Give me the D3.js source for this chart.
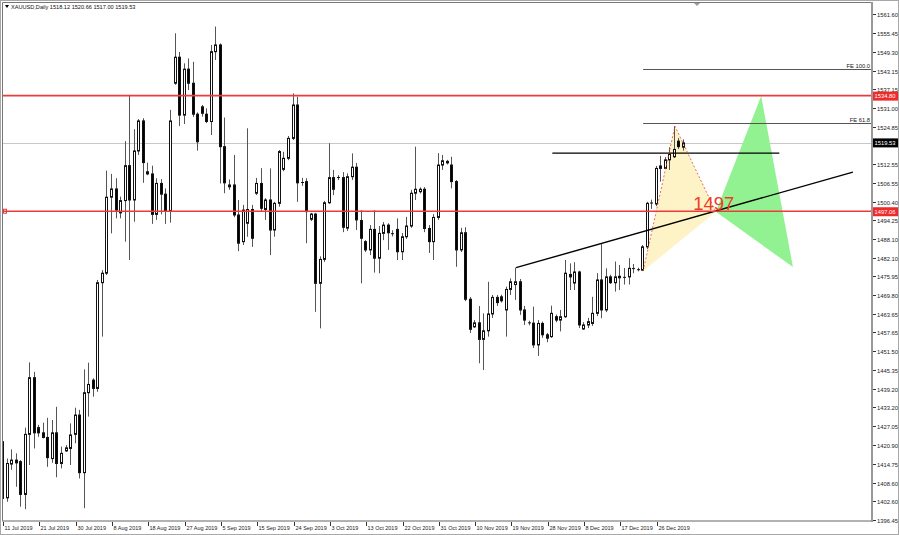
<!DOCTYPE html>
<html><head><meta charset="utf-8">
<script src="https://cdn.jsdelivr.net/npm/d3@7"></script>
<style>html,body{margin:0;padding:0;background:#fff;} svg{display:block;font-family:"Liberation Sans",Arial,sans-serif;}</style>
</head><body><svg id="c" width="899" height="535"></svg>
<script>
// ---------------- data ----------------
const symbol = "XAUUSD,Daily";
const lastOHLC = ["1518.12", "1520.66", "1517.00", "1519.53"];
const dateTicks = ["11 Jul 2019","21 Jul 2019","30 Jul 2019","8 Aug 2019","18 Aug 2019","27 Aug 2019","5 Sep 2019","15 Sep 2019","24 Sep 2019","3 Oct 2019","13 Oct 2019","22 Oct 2019","31 Oct 2019","10 Nov 2019","19 Nov 2019","28 Nov 2019","8 Dec 2019","17 Dec 2019","26 Dec 2019"];
const dateTickStep = 8;
const priceTicks = [1561.60,1555.45,1549.30,1543.15,1537.15,1531.00,1524.85,1518.70,1512.55,1506.55,1500.40,1494.25,1488.10,1482.10,1475.95,1469.80,1463.65,1457.65,1451.50,1445.35,1439.20,1433.20,1427.05,1420.90,1414.75,1408.60,1402.60,1396.45];
const priceDomain = [1396.45, 1561.60];

const opens = [1422.0,1403.7,1414.7,1416.0,1415.5,1404.8,1424.4,1442.9,1426.6,1424.9,1423.4,1416.5,1424.9,1414.9,1419.0,1419.8,1424.4,1430.7,1411.9,1438.0,1442.1,1439.4,1473.9,1477.0,1501.8,1504.5,1496.7,1500.7,1512.1,1500.9,1516.9,1526.7,1510.1,1509.4,1496.2,1506.3,1502.8,1497.4,1539.0,1547.5,1528.6,1543.6,1539.0,1528.9,1531.3,1528.9,1526.5,1549.3,1551.5,1518.3,1505.2,1505.8,1496.0,1487.3,1493.3,1497.8,1503.1,1506.3,1497.8,1500.9,1491.1,1499.8,1510.9,1514.5,1521.0,1531.9,1506.5,1506.9,1494.6,1496.3,1473.7,1481.5,1500.0,1508.2,1508.1,1508.2,1491.7,1508.5,1511.6,1494.2,1487.3,1484.6,1491.3,1481.9,1490.0,1492.7,1490.0,1491.3,1484.0,1488.9,1492.4,1503.1,1503.6,1504.4,1491.6,1487.3,1495.2,1512.3,1513.5,1512.3,1506.9,1484.6,1490.2,1468.5,1459.5,1460.8,1455.4,1458.2,1463.7,1469.1,1469.3,1465.0,1471.7,1473.3,1474.2,1465.0,1460.9,1460.7,1453.6,1460.6,1456.9,1456.3,1462.8,1461.7,1462.8,1476.6,1473.8,1477.4,1458.8,1460.1,1460.6,1463.9,1474.8,1465.0,1475.8,1473.9,1476.0,1475.5,1475.8,1478.6,1478.3,1478.0,1485.6,1499.8,1499.6,1511.2,1511.2,1514.0,1515.0,1520.1,1518.12];
const highs = [1426.9,1416.5,1419.5,1418.2,1416.0,1426.6,1447.9,1444.8,1427.5,1428.2,1429.8,1429.1,1433.4,1420.4,1420.9,1428.0,1433.1,1432.4,1445.6,1447.8,1442.7,1474.8,1478.0,1510.5,1509.4,1508.0,1502.0,1520.1,1535.2,1524.0,1527.3,1527.6,1513.1,1512.1,1508.0,1507.7,1504.7,1530.3,1555.3,1549.2,1545.5,1547.1,1546.0,1529.5,1531.9,1530.8,1551.5,1557.5,1552.0,1527.8,1507.6,1515.6,1500.9,1499.3,1524.3,1499.3,1508.1,1511.3,1501.5,1511.2,1500.3,1517.2,1516.6,1521.8,1535.7,1534.6,1508.1,1508.0,1496.7,1496.7,1482.5,1500.6,1519.4,1510.7,1509.0,1510.0,1509.6,1516.1,1513.0,1497.6,1487.8,1492.7,1497.6,1492.4,1493.7,1493.3,1491.0,1494.9,1490.1,1495.4,1504.2,1518.3,1505.0,1505.1,1492.7,1496.3,1516.2,1515.6,1514.0,1515.0,1507.4,1491.8,1492.0,1469.2,1461.7,1466.3,1463.9,1474.2,1469.9,1469.9,1470.0,1472.6,1475.3,1478.8,1475.1,1466.3,1461.5,1466.1,1461.7,1461.2,1457.5,1466.4,1463.5,1465.0,1481.3,1480.2,1480.6,1477.8,1461.0,1462.4,1469.3,1477.0,1486.8,1478.6,1476.5,1480.8,1479.7,1478.7,1481.9,1480.0,1478.8,1486.2,1500.3,1501.0,1512.0,1515.3,1514.9,1518.1,1525.0,1521.1,1520.66];
const lows = [1402.9,1402.4,1412.8,1407.3,1400.8,1400.0,1414.4,1419.8,1423.6,1423.1,1413.8,1415.1,1410.4,1413.3,1418.7,1414.4,1421.5,1410.0,1400.3,1430.2,1436.7,1438.3,1456.3,1476.4,1490.0,1494.9,1494.9,1487.3,1481.3,1493.8,1515.6,1506.5,1509.0,1493.1,1494.4,1496.2,1493.1,1493.5,1538.5,1525.0,1525.7,1536.8,1528.0,1517.0,1528.1,1526.0,1522.1,1546.6,1506.3,1503.1,1504.2,1495.3,1484.2,1486.2,1488.9,1485.6,1502.5,1497.0,1494.4,1482.9,1488.9,1498.7,1510.3,1513.9,1520.5,1500.3,1505.5,1486.8,1494.0,1464.4,1459.0,1480.7,1499.6,1502.5,1507.4,1490.4,1490.8,1507.4,1491.1,1473.7,1483.9,1482.9,1477.2,1477.0,1487.8,1484.6,1489.0,1481.3,1481.3,1488.2,1491.8,1500.9,1503.0,1490.4,1483.6,1481.3,1494.4,1510.7,1512.5,1504.7,1479.1,1483.9,1467.9,1457.5,1459.1,1447.6,1445.4,1456.3,1462.4,1466.3,1467.4,1456.3,1469.9,1468.3,1463.4,1460.1,1460.0,1452.6,1450.0,1455.9,1454.5,1455.9,1461.0,1458.0,1462.4,1471.5,1471.5,1459.1,1458.5,1459.1,1459.8,1463.0,1462.3,1464.3,1473.5,1471.0,1471.5,1473.3,1473.3,1477.0,1477.6,1477.7,1484.9,1498.0,1498.9,1506.9,1511.0,1510.7,1514.6,1517.5,1517.00];
const closes = [1403.5,1414.9,1416.0,1415.1,1404.8,1424.4,1442.9,1424.9,1424.9,1423.4,1416.8,1424.9,1414.9,1418.2,1420.0,1424.2,1430.7,1411.9,1438.0,1440.7,1439.4,1473.9,1477.0,1501.8,1504.5,1497.6,1500.7,1512.1,1500.9,1516.9,1526.7,1513.1,1509.4,1496.2,1506.3,1502.8,1497.4,1526.7,1547.5,1528.6,1543.6,1539.0,1528.9,1519.9,1529.2,1526.5,1549.3,1551.5,1518.3,1506.5,1505.8,1496.0,1486.8,1497.6,1497.8,1488.4,1506.3,1498.2,1500.9,1491.1,1499.8,1516.7,1514.5,1521.0,1531.9,1506.5,1506.7,1497.1,1496.3,1473.7,1481.5,1500.0,1508.2,1504.4,1508.4,1492.0,1508.5,1511.6,1494.4,1488.4,1484.6,1491.3,1481.9,1490.0,1492.7,1490.2,1489.8,1484.0,1488.9,1492.4,1503.1,1504.4,1504.4,1491.6,1487.3,1495.2,1512.3,1513.7,1513.0,1506.9,1484.6,1490.2,1468.5,1458.7,1460.8,1455.4,1458.2,1463.7,1469.1,1467.4,1468.0,1471.7,1474.2,1474.2,1465.0,1461.7,1460.7,1453.6,1460.6,1456.9,1455.8,1463.9,1461.7,1462.8,1477.0,1475.8,1477.4,1460.1,1460.1,1461.2,1463.9,1474.8,1465.0,1475.8,1473.9,1475.8,1475.5,1475.8,1478.6,1478.4,1478.0,1485.6,1499.8,1500.0,1511.2,1512.0,1514.0,1515.8,1517.4,1518.3,1519.53];

const levelPrices = [1534.80, 1497.06];
const levelLabels = ["1534.80", "1497.06"];
const bidPrice = 1519.53;
const fePrices = [1543.6, 1526.0];
const feLabels = ["FE 100.0", "FE 61.8"];
const feStartIdx = 141;
const hLineIdx = [121, 171];
const hLinePrice = 1516.2;
const trendIdx = [113, 187.2];
const trendPrice = [1478.8, 1510.0];
const patternIdx = [141, 148, 157, 167, 174];
const patternPrice = [1477.7, 1525.0, 1497.06, 1534.8, 1479.0];
const patternText = "1497";

// ---------------- layout ----------------
const W = 899, H = 535;
const plotL = 2, plotT = 2, plotR = 872, plotB = 521;
const svg = d3.select("#c");
const x = d3.scaleLinear().domain([0, 150]).range([3, 684]);
const y = d3.scaleLinear().domain(priceDomain).range([520, 14]);

svg.append("rect").attr("x",0.5).attr("y",0.5).attr("width",W-1).attr("height",H-1)
  .attr("fill","#fff").attr("stroke","#a8a8a8");

svg.append("defs").append("clipPath").attr("id","clip").append("rect")
  .attr("x",plotL).attr("y",plotT).attr("width",plotR-plotL).attr("height",plotB-plotT);
const g = svg.append("g").attr("clip-path","url(#clip)");

// bid line
g.append("line").attr("x1",plotL).attr("x2",plotR).attr("y1",Math.round(y(bidPrice))+0.5).attr("y2",Math.round(y(bidPrice))+0.5)
  .attr("stroke","#c8c8c8").attr("stroke-width",1);

// pattern fills
const pt = patternIdx.map((d,i)=>[x(d), y(patternPrice[i])]);
g.append("path").attr("d", d3.line()([pt[0],pt[1],pt[2]]) + "Z").attr("fill","#fdf3c6").attr("stroke","none");
g.append("path").attr("d", d3.line()([pt[2],pt[3],pt[4]]) + "Z").attr("fill","#92f292").attr("stroke","none");

// FE lines
fePrices.forEach((p,i)=>{
  const yy = Math.round(y(p))+0.5;
  g.append("line").attr("x1",x(feStartIdx)).attr("x2",plotR).attr("y1",yy).attr("y2",yy)
    .attr("stroke","#555").attr("stroke-width",1);
  svg.append("text").attr("x",plotR-2).attr("y",yy-1.5).attr("text-anchor","end")
    .attr("font-size",5.8).attr("fill","#222").text(feLabels[i]);
});

// candles
const bars = opens.map((o,i)=>({i, o, h:highs[i], l:lows[i], c:closes[i]}));
const cg = g.append("g");
bars.forEach(b=>{
  const r = Math.round(x(b.i));
  cg.append("line").attr("x1",r-0.5).attr("x2",r-0.5).attr("y1",y(b.h)).attr("y2",y(b.l))
    .attr("stroke","#555").attr("stroke-width",1);
  const top = y(Math.max(b.o,b.c)), bot = y(Math.min(b.o,b.c));
  const bull = b.c >= b.o;
  if (bot - top < 1) {
    cg.append("line").attr("x1",r-2).attr("x2",r+1).attr("y1",(top+bot)/2).attr("y2",(top+bot)/2)
      .attr("stroke","#111").attr("stroke-width",1);
  } else {
    cg.append("rect").attr("x",r-1.5).attr("y",top).attr("width",2).attr("height",bot-top)
      .attr("fill", bull ? "#fff" : "#000").attr("stroke","#111").attr("stroke-width",1);
  }
});

// horizontal black line
g.append("line").attr("x1",x(hLineIdx[0])).attr("x2",x(hLineIdx[1]))
  .attr("y1",y(hLinePrice)).attr("y2",y(hLinePrice)).attr("stroke","#000").attr("stroke-width",1.4);

// trend line
g.append("line").attr("x1",x(trendIdx[0])).attr("x2",x(trendIdx[1]))
  .attr("y1",y(trendPrice[0])).attr("y2",y(trendPrice[1])).attr("stroke","#000").attr("stroke-width",1.4);

// red level lines
levelPrices.forEach(p=>{
  g.append("line").attr("x1",plotL).attr("x2",plotR).attr("y1",y(p)-0.5).attr("y2",y(p)-0.5)
    .attr("stroke","#ee3a3a").attr("stroke-width",1.6);
});
svg.append("rect").attr("x",3.5).attr("y",y(levelPrices[1])-2.5).attr("width",3).attr("height",4)
  .attr("fill","none").attr("stroke","#ee3a3a").attr("stroke-width",1);

// dashed pattern edges
g.append("path").attr("d", d3.line()([pt[0],pt[1],pt[2]])).attr("fill","none")
  .attr("stroke","#e04a3a").attr("stroke-width",0.8).attr("stroke-dasharray","2,2");

// pattern label
svg.append("text").attr("x",pt[2][0]-2).attr("y",pt[2][1]-1.5).attr("text-anchor","middle")
  .attr("font-size",18.5).attr("fill","#f03a2a").text(patternText);

// frame
svg.append("path").attr("d",`M${plotR},${plotT+0.5}H${plotL+0.5}V${plotB}`).attr("fill","none").attr("stroke","#777").attr("stroke-width",1);
svg.append("line").attr("x1",plotR).attr("x2",plotR).attr("y1",plotT).attr("y2",plotB+1).attr("stroke","#999").attr("stroke-width",2);
svg.append("line").attr("x1",plotL).attr("x2",plotR+1).attr("y1",plotB).attr("y2",plotB).attr("stroke","#999").attr("stroke-width",1.5);

// right axis (labels hidden under the highlighted price boxes are skipped, as in the reference)
const boxPrices = levelPrices.concat([bidPrice]);
const ya = svg.append("g");
priceTicks.forEach(p=>{
  const yy = Math.round(y(p))+0.5;
  ya.append("line").attr("x1",plotR+1).attr("x2",plotR+4).attr("y1",yy).attr("y2",yy).attr("stroke","#333");
  const hidden = boxPrices.some(bp => Math.abs(y(bp) - yy) < 6);
  if (!hidden) ya.append("text").attr("x",plotR+5).attr("y",yy+2).attr("font-size",5.8).attr("fill","#222").text(p.toFixed(2));
});
function priceBox(p, label, bg){
  const yy = y(p);
  ya.append("rect").attr("x",plotR+1).attr("y",yy-4.5).attr("width",25).attr("height",9).attr("fill",bg);
  ya.append("text").attr("x",plotR+2.5).attr("y",yy+2).attr("font-size",5.8).attr("fill","#fff").text(label);
}
levelPrices.forEach((p,i)=>priceBox(p, levelLabels[i], "#ee2a2a"));
priceBox(bidPrice, lastOHLC[3], "#000");

// bottom axis
const xa = svg.append("g");
dateTicks.forEach((t,k)=>{
  const xx = Math.round(x(k*dateTickStep))+0.5;
  xa.append("line").attr("x1",xx).attr("x2",xx).attr("y1",plotB+1).attr("y2",plotB+5).attr("stroke","#333");
  xa.append("text").attr("x",xx+1).attr("y",plotB+9).attr("font-size",5.5).attr("fill","#222").text(t);
});

// header
svg.append("path").attr("d","M5,5 L9,5 L7,8 Z").attr("fill","#000");
svg.append("text").attr("x",11).attr("y",9).attr("font-size",5.6).attr("fill","#111")
  .text(symbol + "  " + lastOHLC.join(" "));
// small shift marker
svg.append("path").attr("d","M694,3 L700,3 L697,6 Z").attr("fill","#999");
</script></body></html>
